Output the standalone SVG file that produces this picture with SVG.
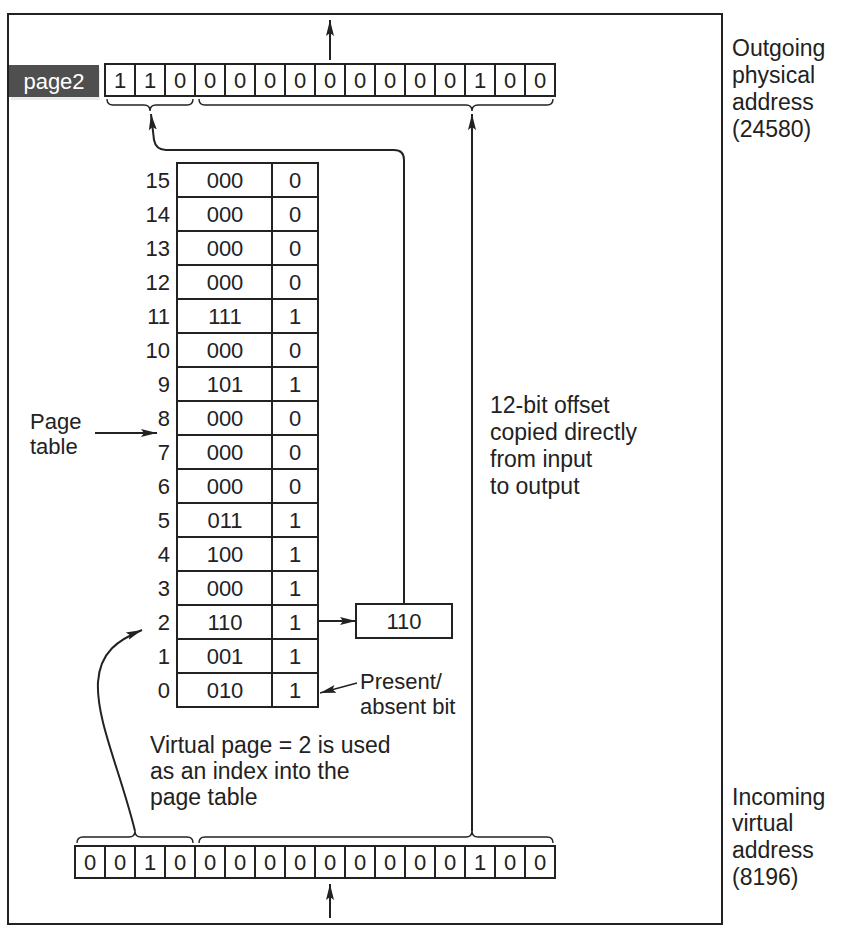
<svg xmlns="http://www.w3.org/2000/svg" width="848" height="936" viewBox="0 0 848 936">
<style>
text{font-family:"Liberation Sans",Arial,sans-serif;fill:#222}
.lbl{font-size:23px}
.sm{font-size:22px}
.d{font-size:22px;text-anchor:middle}
.n{font-size:22px;text-anchor:end}
.c{fill:#fff;stroke:#222;stroke-width:2}
.ln{fill:none;stroke:#222;stroke-width:2}
.br{fill:none;stroke:#222;stroke-width:1.4}
</style>
<defs>
<marker id="ah" markerUnits="userSpaceOnUse" markerWidth="18" markerHeight="10" refX="16" refY="5" orient="auto">
<path d="M0,1 L16,5 L0,9 L3,5 z" fill="#222"/>
</marker>
</defs>
<rect width="848" height="936" fill="#fff"/>
<g id="frame"><rect x="8" y="14" width="714" height="910" class="ln"/></g>

<g id="page2-label">
<rect x="10" y="66" width="89" height="32" fill="#000" opacity="0.08" transform="translate(1,2)"/>
<rect x="9" y="65" width="90" height="32" fill="#4f4f4f"/>
<text x="54" y="89" style="font-size:22px;text-anchor:middle;fill:#fff">page2</text>
</g>

<g id="outgoing-address">
<rect x="105" y="64" width="450" height="32" class="c"/>
<path class="ln" d="M135,64V96M165,64V96M195,64V96M225,64V96M255,64V96M285,64V96M315,64V96M345,64V96M375,64V96M405,64V96M435,64V96M465,64V96M495,64V96M525,64V96"/>
<text class="d" x="120" y="88">1</text><text class="d" x="150" y="88">1</text><text class="d" x="180" y="88">0</text><text class="d" x="210" y="88">0</text><text class="d" x="240" y="88">0</text><text class="d" x="270" y="88">0</text><text class="d" x="300" y="88">0</text><text class="d" x="330" y="88">0</text><text class="d" x="360" y="88">0</text><text class="d" x="390" y="88">0</text><text class="d" x="420" y="88">0</text><text class="d" x="450" y="88">0</text><text class="d" x="480" y="88">1</text><text class="d" x="510" y="88">0</text><text class="d" x="540" y="88">0</text>
<path class="br" d="M107,99 q0,6 6,6 H144 q6,0 6,6 q0,-6 6,-6 H187 q6,0 6,-6"/>
<path class="br" d="M199,99 q0,6 6,6 H466 q6,0 6,6 q0,-6 6,-6 H547 q6,0 6,-6"/>
</g>

<g id="incoming-address">
<rect x="75" y="846" width="480" height="32" class="c"/>
<path class="ln" d="M105,846V878M135,846V878M165,846V878M195,846V878M225,846V878M255,846V878M285,846V878M315,846V878M345,846V878M375,846V878M405,846V878M435,846V878M465,846V878M495,846V878M525,846V878"/>
<text class="d" x="90" y="870">0</text><text class="d" x="120" y="870">0</text><text class="d" x="150" y="870">1</text><text class="d" x="180" y="870">0</text><text class="d" x="210" y="870">0</text><text class="d" x="240" y="870">0</text><text class="d" x="270" y="870">0</text><text class="d" x="300" y="870">0</text><text class="d" x="330" y="870">0</text><text class="d" x="360" y="870">0</text><text class="d" x="390" y="870">0</text><text class="d" x="420" y="870">0</text><text class="d" x="450" y="870">0</text><text class="d" x="480" y="870">1</text><text class="d" x="510" y="870">0</text><text class="d" x="540" y="870">0</text>
<path class="br" d="M77,843 q0,-6 6,-6 H129 q6,0 6,-6 q0,6 6,6 H187 q6,0 6,6"/>
<path class="br" d="M199,843 q0,-6 6,-6 H466 q6,0 6,-6 q0,6 6,6 H547 q6,0 6,6"/>
</g>

<g id="page-table">
<rect x="177" y="163" width="141" height="544" class="c"/>
<path class="ln" d="M272,163V707M177,197H318M177,231H318M177,265H318M177,299H318M177,333H318M177,367H318M177,401H318M177,435H318M177,469H318M177,503H318M177,537H318M177,571H318M177,605H318M177,639H318M177,673H318"/>
<text class="n" x="170" y="188">15</text><text class="d" x="225" y="188">000</text><text class="d" x="295" y="188">0</text>
<text class="n" x="170" y="222">14</text><text class="d" x="225" y="222">000</text><text class="d" x="295" y="222">0</text>
<text class="n" x="170" y="256">13</text><text class="d" x="225" y="256">000</text><text class="d" x="295" y="256">0</text>
<text class="n" x="170" y="290">12</text><text class="d" x="225" y="290">000</text><text class="d" x="295" y="290">0</text>
<text class="n" x="170" y="324">11</text><text class="d" x="225" y="324">111</text><text class="d" x="295" y="324">1</text>
<text class="n" x="170" y="358">10</text><text class="d" x="225" y="358">000</text><text class="d" x="295" y="358">0</text>
<text class="n" x="170" y="392">9</text><text class="d" x="225" y="392">101</text><text class="d" x="295" y="392">1</text>
<text class="n" x="170" y="426">8</text><text class="d" x="225" y="426">000</text><text class="d" x="295" y="426">0</text>
<text class="n" x="170" y="460">7</text><text class="d" x="225" y="460">000</text><text class="d" x="295" y="460">0</text>
<text class="n" x="170" y="494">6</text><text class="d" x="225" y="494">000</text><text class="d" x="295" y="494">0</text>
<text class="n" x="170" y="528">5</text><text class="d" x="225" y="528">011</text><text class="d" x="295" y="528">1</text>
<text class="n" x="170" y="562">4</text><text class="d" x="225" y="562">100</text><text class="d" x="295" y="562">1</text>
<text class="n" x="170" y="596">3</text><text class="d" x="225" y="596">000</text><text class="d" x="295" y="596">1</text>
<text class="n" x="170" y="630">2</text><text class="d" x="225" y="630">110</text><text class="d" x="295" y="630">1</text>
<text class="n" x="170" y="664">1</text><text class="d" x="225" y="664">001</text><text class="d" x="295" y="664">1</text>
<text class="n" x="170" y="698">0</text><text class="d" x="225" y="698">010</text><text class="d" x="295" y="698">1</text>
</g>

<g id="frame-box">
<rect x="356" y="604" width="96" height="34" class="c"/>
<text class="d" x="404" y="629">110</text>
</g>

<g id="labels">
<text class="lbl" x="732" y="56">Outgoing</text>
<text class="lbl" x="732" y="83">physical</text>
<text class="lbl" x="732" y="110">address</text>
<text class="lbl" x="732" y="137">(24580)</text>
<text class="lbl" x="732" y="805">Incoming</text>
<text class="lbl" x="732" y="831">virtual</text>
<text class="lbl" x="732" y="858">address</text>
<text class="lbl" x="732" y="885">(8196)</text>
<text class="lbl" x="490" y="413">12-bit offset</text>
<text class="lbl" x="490" y="440">copied directly</text>
<text class="lbl" x="490" y="467">from input</text>
<text class="lbl" x="490" y="494">to output</text>
<text class="sm" x="30" y="429">Page</text>
<text class="sm" x="30" y="454">table</text>
<text class="sm" x="360" y="689">Present/</text>
<text class="sm" x="360" y="714">absent bit</text>
<text class="lbl" x="150" y="753">Virtual page = 2 is used</text>
<text class="lbl" x="150" y="779">as an index into the</text>
<text class="lbl" x="150" y="805">page table</text>
</g>

<g id="connectors">
<line class="ln" x1="330" y1="60" x2="330" y2="20" marker-end="url(#ah)"/>
<line class="ln" x1="330" y1="918" x2="330" y2="884" marker-end="url(#ah)"/>
<line class="ln" x1="472" y1="831" x2="472" y2="114" marker-end="url(#ah)"/>
<path class="ln" d="M404,604 V160 Q404,150 394,150 H166 Q156,150 154,140 L151,114" marker-end="url(#ah)"/>
<line class="ln" x1="318" y1="621" x2="356" y2="621" marker-end="url(#ah)"/>
<line class="ln" x1="95" y1="433" x2="157" y2="433" marker-end="url(#ah)"/>
<line class="ln" x1="357" y1="683" x2="320" y2="693" marker-end="url(#ah)" style="stroke-width:1.5"/>
<path class="ln" d="M135,831 C120,770 96,720 98,682 C100,652 118,640 142,630" marker-end="url(#ah)"/>
</g>
</svg>
